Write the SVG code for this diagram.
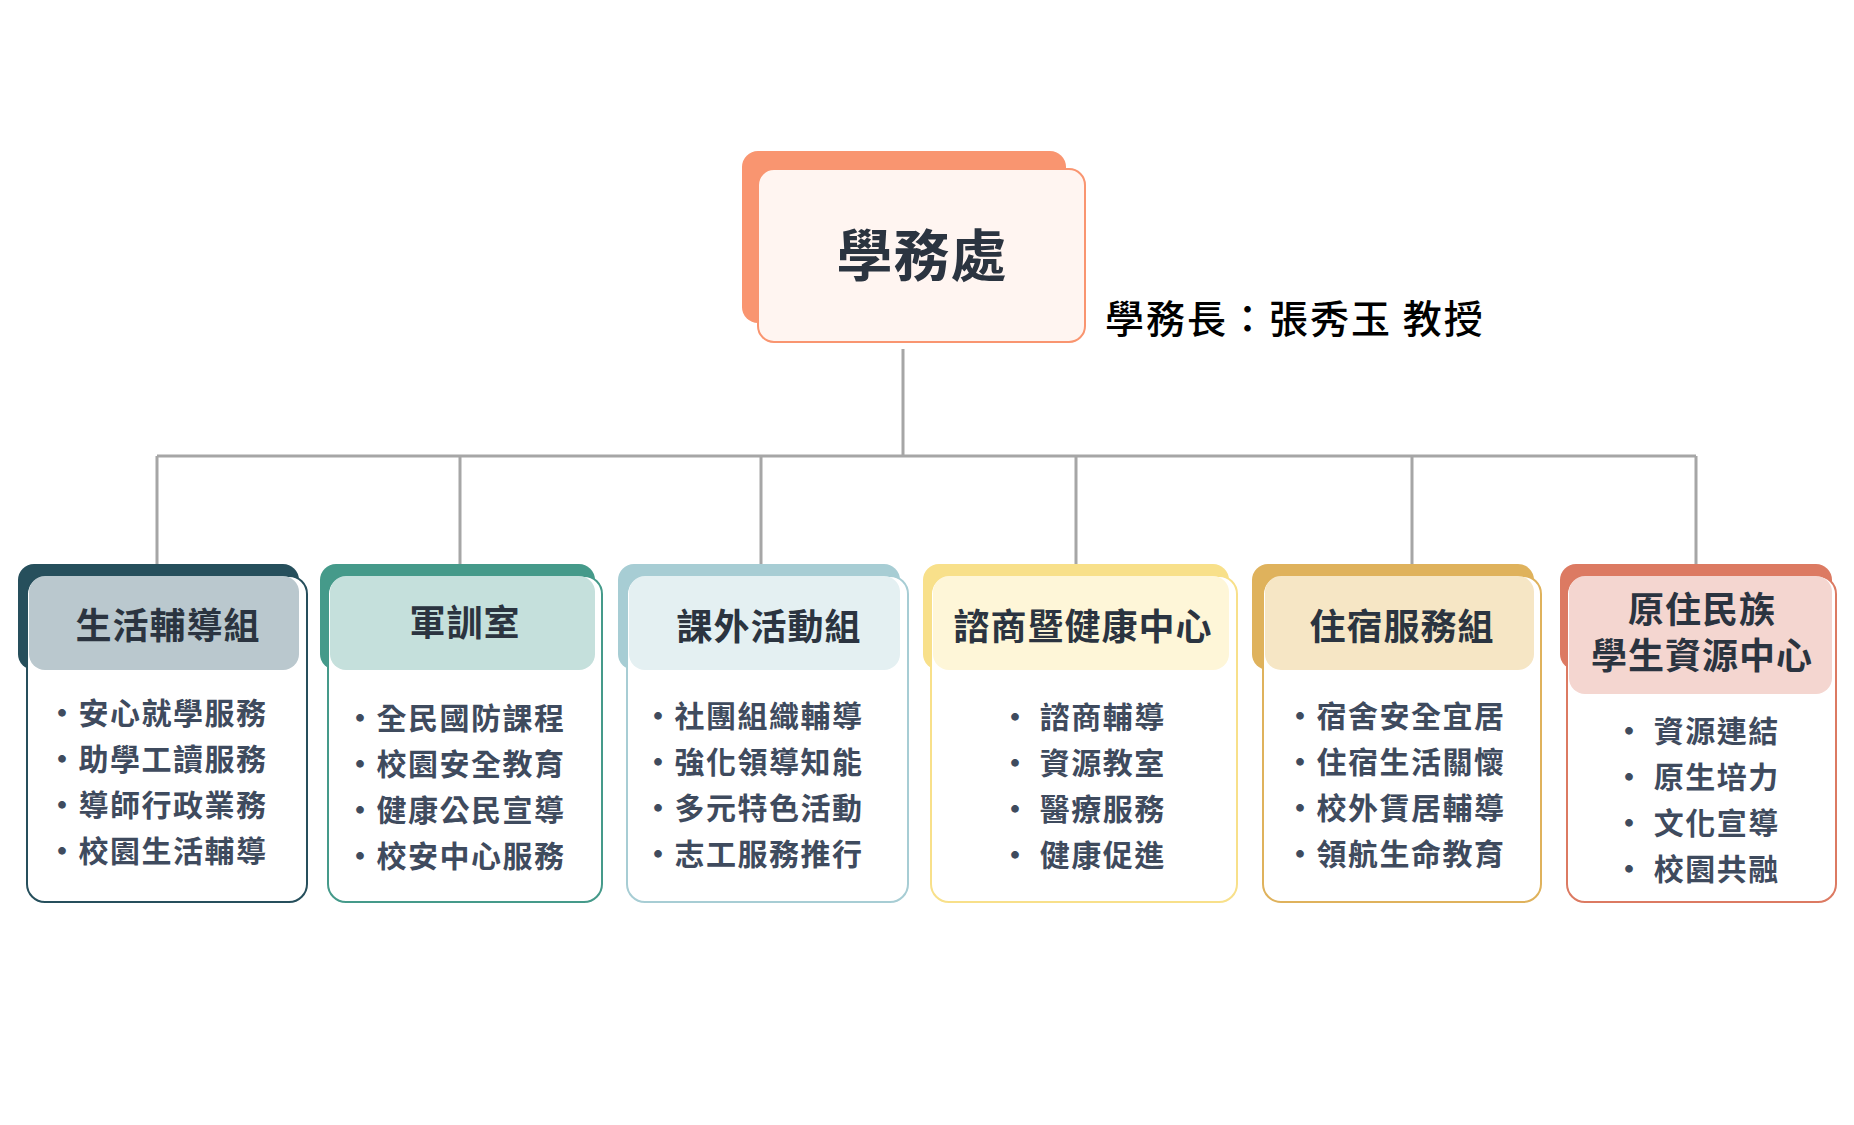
<svg xmlns="http://www.w3.org/2000/svg" width="1854" height="1125" viewBox="0 0 1854 1125">
<style>
text{font-family:"Noto Sans CJK TC","Noto Sans CJK SC",sans-serif;font-weight:bold}
.h{font-size:36px;fill:#2b3440;text-anchor:middle;letter-spacing:1px}
.i{font-size:30px;fill:#3f4b5e;letter-spacing:1.5px}
.ln{stroke:#a6a6a6;stroke-width:3;fill:none}
</style>
<rect width="1854" height="1125" fill="#fff"/>
<g id="connectors">
<path class="ln" d="M903 349V456M157 456H1696M157 456V564M460 456V564M761 456V564M1076 456V564M1412 456V564M1696 456V564"/>
</g>
<g id="root">
<rect x="742" y="151" width="324" height="172" rx="16" fill="#f99570"/>
<rect x="758" y="169" width="327" height="173" rx="16" fill="#fff5f1" stroke="#f99570" stroke-width="2"/>
<text x="922" y="276" style="font-size:56px;fill:#2b3440;letter-spacing:1px" text-anchor="middle">學務處</text>
<text x="1105" y="333" style="font-size:39px;fill:#000;font-weight:500;letter-spacing:2px">學務長：張秀玉 教授</text>
</g>
<g id="n1">
<rect x="18" y="564" width="281" height="106" rx="16" fill="#264f5c"/>
<rect x="27" y="576" width="280" height="326" rx="18" fill="#fff" stroke="#264f5c" stroke-width="2"/>
<rect x="29" y="576" width="270" height="94" rx="16" fill="#bac8ce"/>
<text class="h" x="168" y="639">生活輔導組</text>
<text class="i" x="47" y="724">•安心就學服務</text><text class="i" x="47" y="770">•助學工讀服務</text><text class="i" x="47" y="816">•導師行政業務</text><text class="i" x="47" y="862">•校園生活輔導</text>
</g>
<g id="n2">
<rect x="320" y="564" width="275" height="106" rx="16" fill="#459a8a"/>
<rect x="328" y="576" width="274" height="326" rx="18" fill="#fff" stroke="#459a8a" stroke-width="2"/>
<rect x="330" y="576" width="265" height="94" rx="16" fill="#c5e0dc"/>
<text class="h" x="465" y="636">軍訓室</text>
<text class="i" x="345" y="729">•全民國防課程</text><text class="i" x="345" y="775">•校園安全教育</text><text class="i" x="345" y="821">•健康公民宣導</text><text class="i" x="345" y="867">•校安中心服務</text>
</g>
<g id="n3">
<rect x="618" y="564" width="282" height="106" rx="16" fill="#a7cdd4"/>
<rect x="627" y="576" width="281" height="326" rx="18" fill="#fff" stroke="#a7cdd4" stroke-width="2"/>
<rect x="629" y="576" width="271" height="94" rx="16" fill="#e4f0f2"/>
<text class="h" x="769" y="640">課外活動組</text>
<text class="i" x="643" y="727">•社團組織輔導</text><text class="i" x="643" y="773">•強化領導知能</text><text class="i" x="643" y="819">•多元特色活動</text><text class="i" x="643" y="865">•志工服務推行</text>
</g>
<g id="n4">
<rect x="923" y="564" width="306" height="106" rx="16" fill="#f8e08a"/>
<rect x="931" y="576" width="306" height="326" rx="18" fill="#fff" stroke="#f8e08a" stroke-width="2"/>
<rect x="933" y="576" width="296" height="94" rx="16" fill="#fef6d8"/>
<text class="h" x="1083" y="640">諮商暨健康中心</text>
<text class="i" x="1000" y="728">• 諮商輔導</text><text class="i" x="1000" y="774">• 資源教室</text><text class="i" x="1000" y="820">• 醫療服務</text><text class="i" x="1000" y="866">• 健康促進</text>
</g>
<g id="n5">
<rect x="1252" y="564" width="282" height="106" rx="16" fill="#dfb25c"/>
<rect x="1263" y="576" width="278" height="326" rx="18" fill="#fff" stroke="#dfb25c" stroke-width="2"/>
<rect x="1265" y="576" width="269" height="94" rx="16" fill="#f6e6c5"/>
<text class="h" x="1402" y="640">住宿服務組</text>
<text class="i" x="1285" y="727">•宿舍安全宜居</text><text class="i" x="1285" y="773">•住宿生活關懷</text><text class="i" x="1285" y="819">•校外賃居輔導</text><text class="i" x="1285" y="865">•領航生命教育</text>
</g>
<g id="n6">
<rect x="1560" y="564" width="272" height="106" rx="16" fill="#dc7a62"/>
<rect x="1567" y="576" width="269" height="326" rx="18" fill="#fff" stroke="#dc7a62" stroke-width="2"/>
<rect x="1569" y="576" width="263" height="118" rx="16" fill="#f4d6d0"/>
<text class="h" x="1702" y="623">原住民族</text>
<text class="h" x="1702" y="669">學生資源中心</text>
<text class="i" x="1614" y="742">• 資源連結</text><text class="i" x="1614" y="788">• 原生培力</text><text class="i" x="1614" y="834">• 文化宣導</text><text class="i" x="1614" y="880">• 校園共融</text>
</g>
</svg>
